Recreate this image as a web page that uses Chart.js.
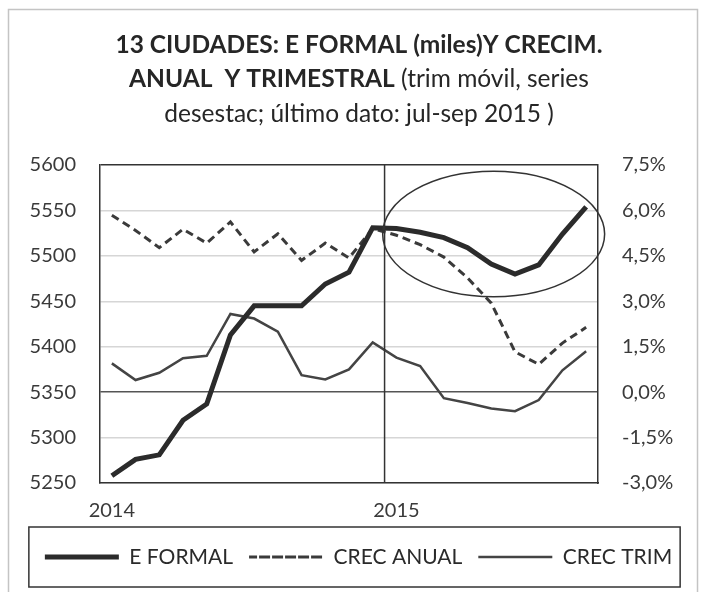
<!DOCTYPE html>
<html>
<head>
<meta charset="utf-8">
<script src="https://cdn.jsdelivr.net/npm/chart.js@4.4.1/dist/chart.umd.min.js"></script>
<style>
  html, body { margin: 0; padding: 0; background: #ffffff; }
  #empleoChart { display: block; }
</style>
</head>
<body>
<canvas id="empleoChart" width="703" height="592"></canvas>
<script>
/************************************************************************************************
 *                                        CHART DATA
 * **********************************************************************************************/
const meses = [
  "ene-14", "feb-14", "mar-14", "abr-14", "may-14", "jun-14", "jul-14", "ago-14", "sep-14",
  "oct-14", "nov-14", "dic-14", "ene-15", "feb-15", "mar-15", "abr-15", "may-15", "jun-15",
  "jul-15", "ago-15", "sep-15",
];

// empleo formal, miles (eje izquierdo)
const eFormal = [
  5258, 5276, 5281, 5319, 5337, 5413, 5445, 5445, 5445, 5469, 5482,
  5531, 5530, 5526, 5520, 5509, 5491, 5480, 5490, 5524, 5554,
];

// crecimiento anual, % (eje derecho)
const crecAnual = [
  5.84, 5.34, 4.77, 5.38, 4.92, 5.62, 4.63, 5.23, 4.35, 4.92, 4.43,
  5.40, 5.18, 4.87, 4.46, 3.77, 2.94, 1.33, 0.92, 1.62, 2.14,
];

// crecimiento trimestral, % (eje derecho)
const crecTrim = [
  0.95, 0.40, 0.64, 1.12, 1.20, 2.58, 2.43, 2.00, 0.56, 0.42, 0.75,
  1.64, 1.14, 0.86, -0.20, -0.36, -0.54, -0.63, -0.26, 0.72, 1.35,
];

const serieLabels = ["E FORMAL", "CREC ANUAL", "CREC TRIM"];

// ejes
const leftMin = 5250, leftMax = 5600, leftStep = 50;
const rightMin = -3, rightMax = 7.5, rightStep = 1.5;

// circulo de la anotacion (indice de mes, valor del eje izquierdo)
const elipseCentro = [16.1, 5524];
const elipseRadio = [4.68, 69];
const corteAnio = 11.5; // linea vertical entre dic-14 y ene-15

const titleLines = [
  [{ text: "13 CIUDADES: E FORMAL (miles)Y CRECIM.", bold: true }],
  [{ text: "ANUAL  Y TRIMESTRAL", bold: true }, { text: " (trim móvil, series", bold: false }],
  [{ text: "desestac; último dato: jul-sep 2015 )", bold: false }],
];

/************************************************************************************************
 *                                        SETTINGS
 * **********************************************************************************************/
const FONT = "Lato, 'DejaVu Sans', sans-serif";
const TEXT = "#3a3a3a";
const DARK = "#333333";
const GRID = "#d6d6d6";

/************************************************************************************************
 *                                        PLUGINS
 * **********************************************************************************************/
const marcoPlugin = {
  id: "marco",
  beforeDraw(chart) {
    const ctx = chart.ctx;
    ctx.save();
    ctx.fillStyle = "#ffffff";
    ctx.fillRect(0, 0, chart.width, chart.height);
    ctx.strokeStyle = "#c4c4c4";
    ctx.lineWidth = 1.5;
    ctx.strokeRect(8.5, 9.5, 689, 640);
    ctx.restore();
  },
};

const tituloPlugin = {
  id: "titulo",
  afterDraw(chart) {
    const ctx = chart.ctx;
    const cx = 359;
    const y0 = 45;
    const lineH = 34.5;
    ctx.save();
    ctx.fillStyle = "#262626";
    ctx.textBaseline = "middle";
    ctx.textAlign = "left";
    titleLines.forEach((parts, i) => {
      let total = 0;
      parts.forEach((p) => {
        ctx.font = (p.bold ? "bold " : "") + "24.5px " + FONT;
        p.w = ctx.measureText(p.text).width;
        total += p.w;
      });
      let x = cx - total / 2;
      parts.forEach((p) => {
        ctx.font = (p.bold ? "bold " : "") + "24.5px " + FONT;
        ctx.fillText(p.text, x, y0 + i * lineH);
        x += p.w;
      });
    });
    ctx.restore();
  },
};

const anotacionPlugin = {
  id: "anotacion",
  afterDatasetsDraw(chart) {
    const ctx = chart.ctx;
    const xs = chart.scales.x;
    const ys = chart.scales.y;
    const area = chart.chartArea;
    ctx.save();
    ctx.strokeStyle = DARK;
    ctx.lineWidth = 1.5;
    // linea vertical del cambio de anio
    const xv = xs.getPixelForValue(corteAnio);
    ctx.beginPath();
    ctx.moveTo(xv, area.top);
    ctx.lineTo(xv, area.bottom);
    ctx.stroke();
    // elipse
    const cx = xs.getPixelForValue(elipseCentro[0]);
    const cy = ys.getPixelForValue(elipseCentro[1]);
    const rx = xs.getPixelForValue(elipseCentro[0] + elipseRadio[0]) - cx;
    const ry = cy - ys.getPixelForValue(elipseCentro[1] + elipseRadio[1]);
    ctx.beginPath();
    ctx.ellipse(cx, cy, rx, ry, 0, 0, Math.PI * 2);
    ctx.stroke();
    ctx.restore();
  },
};

const cajaLeyendaPlugin = {
  id: "cajaLeyenda",
  afterDraw(chart) {
    const lg = chart.legend;
    if (!lg || !lg.legendHitBoxes.length) return;
    const boxes = lg.legendHitBoxes;
    const left = boxes[0].left - 16;
    const last = boxes[boxes.length - 1];
    const right = last.left + last.width + 8;
    const ctx = chart.ctx;
    ctx.save();
    ctx.strokeStyle = DARK;
    ctx.lineWidth = 1.5;
    ctx.strokeRect(left, 527, right - left, 60);
    ctx.restore();
  },
};

/************************************************************************************************
 *                                        CONFIG
 * **********************************************************************************************/
function getDataSets() {
  return [
    {
      label: serieLabels[0],
      data: eFormal,
      yAxisID: "y",
      borderColor: "#2b2b2b",
      backgroundColor: "#2b2b2b",
      borderWidth: 5,
      pointRadius: 0,
      tension: 0,
    },
    {
      label: serieLabels[1],
      data: crecAnual,
      yAxisID: "y1",
      borderColor: "#3a3a3a",
      backgroundColor: "#3a3a3a",
      borderWidth: 3,
      borderDash: [8, 5],
      pointRadius: 0,
      tension: 0,
    },
    {
      label: serieLabels[2],
      data: crecTrim,
      yAxisID: "y1",
      borderColor: "#444444",
      backgroundColor: "#444444",
      borderWidth: 2.5,
      pointRadius: 0,
      tension: 0,
    },
  ];
}

function getScales() {
  return {
    x: {
      type: "category",
      offset: true,
      grid: { display: false, drawTicks: false },
      border: { display: true, color: DARK, width: 1.5 },
      ticks: {
        autoSkip: false,
        maxRotation: 0,
        padding: 16,
        color: TEXT,
        font: { family: FONT, size: 20 },
        callback: (v, i) => (meses[i].startsWith("ene") ? "20" + meses[i].slice(4) : ""),
      },
      afterFit: (s) => { s.height = 47.5; },
    },
    y: {
      position: "left",
      min: leftMin,
      max: leftMax,
      grid: {
        drawTicks: false,
        lineWidth: 1.5,
        color: (c) => (c.tick.value === leftMax ? DARK : c.tick.value === 5350 ? "#555555" : GRID),
      },
      border: { display: true, color: DARK, width: 1.5 },
      ticks: {
        stepSize: leftStep,
        padding: 24,
        color: TEXT,
        font: { family: FONT, size: 20 },
        callback: (v) => String(v),
      },
      afterFit: (s) => { s.width = 73; },
    },
    y1: {
      position: "right",
      min: rightMin,
      max: rightMax,
      grid: { display: false, drawTicks: false },
      border: { display: true, color: DARK, width: 1.5 },
      ticks: {
        stepSize: rightStep,
        padding: 24,
        color: TEXT,
        font: { family: FONT, size: 20 },
        callback: (v) => v.toFixed(1).replace(".", ",") + "%",
      },
      afterFit: (s) => { s.width = 92; },
    },
  };
}

function getConfig() {
  return {
    type: "line",
    data: { labels: meses, datasets: getDataSets() },
    options: {
      responsive: false,
      animation: false,
      devicePixelRatio: 1,
      layout: { padding: { top: 165, left: 27, right: 13, bottom: 14.5 } },
      scales: getScales(),
      plugins: {
        title: { display: false },
        tooltip: { enabled: false },
        legend: {
          display: true,
          position: "bottom",
          labels: {
            boxWidth: 74,
            boxHeight: 0,
            padding: 16,
            color: "#2a2a2a",
            font: { family: FONT, size: 21 },
          },
        },
      },
    },
    plugins: [marcoPlugin, tituloPlugin, anotacionPlugin, cajaLeyendaPlugin],
  };
}

/************************************************************************************************
 *                                        RENDER
 * **********************************************************************************************/
const empleoChart = new Chart(document.getElementById("empleoChart"), getConfig());
</script>
</body>
</html>
